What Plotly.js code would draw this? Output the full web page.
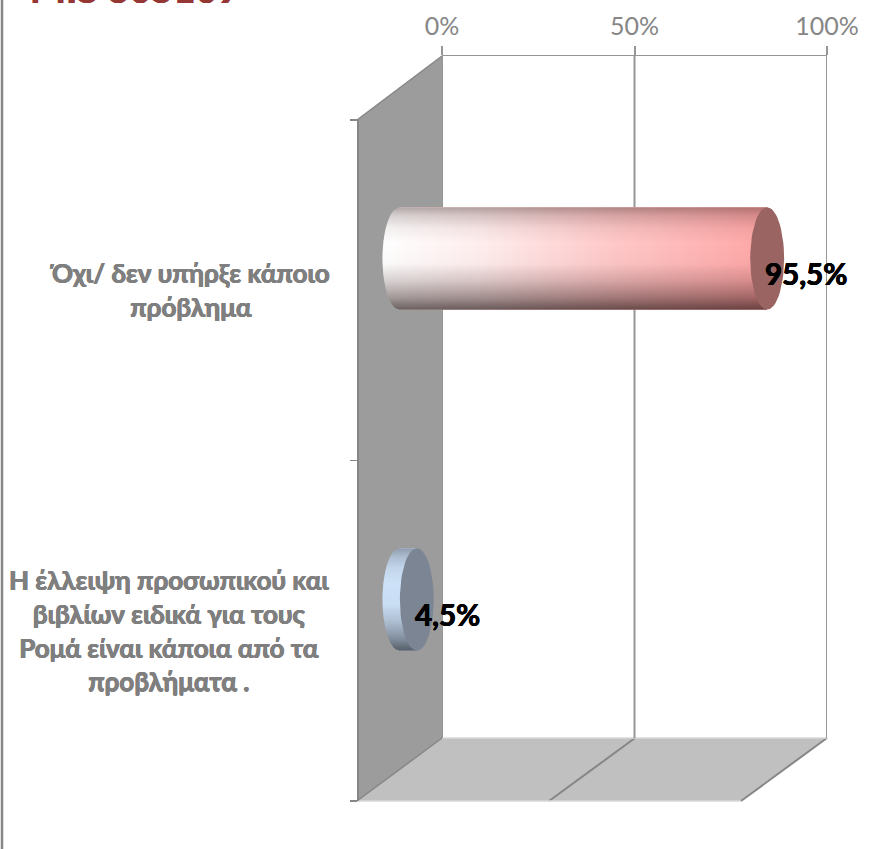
<!DOCTYPE html>
<html><head><meta charset="utf-8">
<script src="https://cdn.plot.ly/plotly-3.0.1.min.js"></script>
<style>html,body{margin:0;padding:0;background:#fff}#c{width:879px;height:849px}</style>
</head><body><div id="c"></div>
<script>
const categories = ['Όχι/ δεν υπήρξε κάποιο<br>πρόβλημα',
  'Η έλλειψη προσωπικού και<br>βιβλίων ειδικά για τους<br>Ρομά είναι κάποια από τα<br>προβλήματα .'];
const values = [95.5, 4.5];
const valueLabels = ['95,5%', '4,5%'];
const xTicks = [0, 50, 100];
const xTickLabels = ['0%', '50%', '100%'];

const W = 879, H = 849;
const fx = p => p / W, fy = p => 1 - p / H;
const GREY = '#868686', GRID = '#969696';
const BOLD = 'Lato, "Noto Sans", sans-serif';
const heavy = c => `0.5px 0 0 ${c}, -0.4px 0 0 ${c}, 0 0.3px 0 ${c}`;
// cylinder styling
const STRIPS = 50, EW = 4.4, EH = 0.15;
const shadeStops = [[0,.7],[.08,.84],[.2,.95],[.35,1],[.55,.98],[.72,.84],[.88,.64],[1,.42]];
function shade(t){
  for(let i=1;i<shadeStops.length;i++){
    if(t<=shadeStops[i][0]){
      const a=shadeStops[i-1],b=shadeStops[i],u=(t-a[0])/(b[0]-a[0]);
      return a[1]+(b[1]-a[1])*u;
    }
  }
  return 1;
}
const styles = [
  {ramp:[[0,[255,255,255]],[.25,[255,238,238]],[.6,[255,200,200]],[1,[255,166,166]]], cap:'#996461', tint:.15},
  {ramp:[[0,[205,225,248]],[1,[205,225,248]]], cap:'#7b8594', tint:0}
];
const rgb = (c,s,tint)=>{
  const cool=s*(1-(1-s)*tint);
  return `rgb(${Math.round(c[0]*s)},${Math.round(c[1]*cool)},${Math.round(c[2]*cool)})`;
};

const traces = [];
// anchor traces so the back and front axes exist
traces.push({type:'scatter',x:[null],y:[null],xaxis:'x',yaxis:'y',showlegend:false,hoverinfo:'skip'});
traces.push({type:'scatter',x:[null],y:[null],xaxis:'x',yaxis:'y3',showlegend:false,hoverinfo:'skip'});
// the bars themselves
traces.push({type:'bar',orientation:'h',x:values,y:values.map((_,i)=>i),width:2*EH,xaxis:'x2',yaxis:'y2',
  marker:{color:['#ffc8c8','#cde1f8'],line:{width:0}},showlegend:false,hoverinfo:'skip'});
values.forEach((v,i)=>{
  const st = styles[i];
  for(let k=0;k<STRIPS;k++){
    const t0=k/STRIPS, t1=Math.min(1,(k+1.4)/STRIPS), tm=(k+.5)/STRIPS;
    const y0=i-EH+2*EH*t0, y1=i-EH+2*EH*t1;
    const lx=t=>-EW*Math.sqrt(Math.max(0,1-Math.pow(2*t-1,2)));
    const s=shade(tm);
    traces.push({type:'scatter',mode:'lines',xaxis:'x2',yaxis:'y2',
      x:[lx(t0),v,v,lx(t1),lx(t0)],y:[y0,y0,y1,y1,y0],fill:'toself',line:{width:0},
      fillgradient:{type:'horizontal',start:-EW,stop:v,
        colorscale:st.ramp.map(r=>[r[0],rgb(r[1],s,st.tint)])},
      showlegend:false,hoverinfo:'skip'});
  }
  const ex=[],ey=[];
  for(let a=0;a<=60;a++){const th=a/60*2*Math.PI;ex.push(v+EW*Math.cos(th));ey.push(i+EH*Math.sin(th));}
  traces.push({type:'scatter',mode:'lines',xaxis:'x2',yaxis:'y2',x:ex,y:ey,fill:'toself',
    fillcolor:st.cap,line:{width:0},showlegend:false,hoverinfo:'skip'});
});

const poly=(pts,fill)=>({type:'path',xref:'paper',yref:'paper',layer:'below',
  path:'M'+pts.map(p=>fx(p[0])+','+fy(p[1])).join(' L')+' Z',fillcolor:fill,line:{width:0}});
const seg=(a,b,c,w)=>({type:'line',xref:'paper',yref:'paper',layer:'below',
  x0:fx(a[0]),y0:fy(a[1]),x1:fx(b[0]),y1:fy(b[1]),line:{color:c,width:w}});

const shapes=[
  poly([[357,120],[442,56],[442,738],[357,801]],'#9c9c9c'),
  poly([[357,801],[741,801],[827,738],[442,738]],'#c0c0c0'),
  seg([357,120],[442,56],GREY,1.5),
  seg([442,738],[357,801],GREY,1.5),
  seg([635,738],[549,801],GREY,2),
  seg([827,738],[741,801],GREY,2),
  seg([442,738],[827,738],'#d9d9d9',1.5),
  seg([357,801],[741,801],'#d9d9d9',1.5),
  seg([2,0],[2,849],GREY,2.5)
];
xTicks.forEach(t=>shapes.push({type:'line',xref:'x',yref:'paper',layer:'below',x0:t,x1:t,
  y0:fy(738),y1:fy(56),line:{color:GRID,width:2}}));

const annotations=[];
categories.forEach((c,i)=>{
  annotations.push({xref:'paper',yref:'y3',x:fx(i===0?190:169),y:i,text:c,showarrow:false,align:'center',
    xanchor:'center',yanchor:'middle',font:{family:BOLD,size:26,color:'#7f7f7f',weight:700,shadow:heavy('#7f7f7f')}});
  annotations.push({xref:'x2',yref:'y2',x:values[i],y:i,text:valueLabels[i],showarrow:false,
    xanchor:'left',yanchor:'middle',xshift:-4,yshift:-15,
    font:{family:BOLD,size:29.5,color:'#000',weight:700,shadow:heavy('#000')}});
});
annotations.push({xref:'paper',yref:'paper',x:fx(28),y:fy(-12),text:'MIS 305109',showarrow:false,
  xanchor:'left',yanchor:'middle',font:{family:BOLD,size:38,color:'#953735',weight:700,shadow:heavy('#953735')}});

const layout={
  width:W,height:H,margin:{l:0,r:0,t:0,b:0,pad:0},paper_bgcolor:'#fff',plot_bgcolor:'rgba(0,0,0,0)',
  showlegend:false,shapes,annotations,
  xaxis:{domain:[fx(442),fx(827)],range:[0,100],side:'top',anchor:'y',tickmode:'array',tickvals:xTicks,ticktext:xTickLabels,
    ticks:'outside',ticklen:9,tickcolor:GRID,tickwidth:2,showgrid:false,
    showline:true,linecolor:GRID,linewidth:1.5,zeroline:false,ticklabelstandoff:1,
    tickfont:{family:'Lato, "Noto Sans", sans-serif',size:25,color:GREY}},
  yaxis:{domain:[fy(738),fy(56)],range:[1.5,-0.5],anchor:'x',visible:false},
  xaxis2:{domain:[fx(361),fx(823)],range:[-10,110],anchor:'y2',visible:false},
  yaxis2:{domain:[fy(770),fy(88)],range:[1.5,-0.5],anchor:'x2',visible:false},
  yaxis3:{domain:[fy(801),fy(120)],range:[1.5,-0.5],anchor:'free',position:fx(357),tickmode:'array',tickvals:[-0.5,0.5,1.5],
    ticktext:['','',''],ticks:'outside',ticklen:7,tickcolor:GREY,tickwidth:1.5,showgrid:false,
    showline:true,linecolor:GREY,linewidth:1.5,zeroline:false}
};
Plotly.newPlot('c',traces,layout,{displayModeBar:false,staticPlot:true});
</script></body></html>
